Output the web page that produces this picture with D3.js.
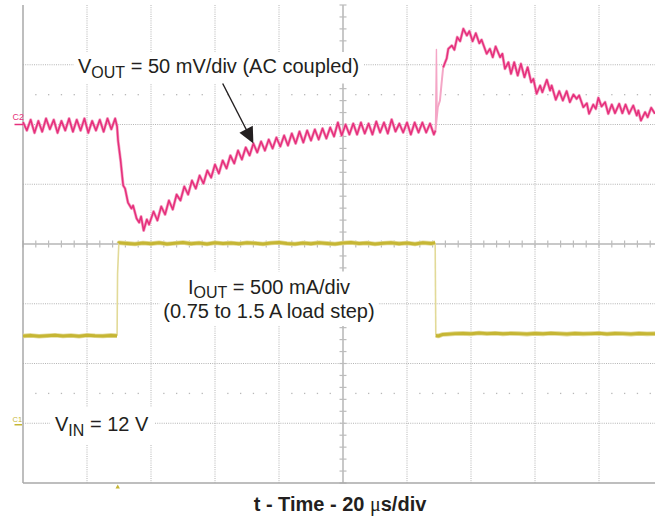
<!DOCTYPE html>
<html><head><meta charset="utf-8">
<script src="https://cdn.jsdelivr.net/npm/d3@7"></script>
<style>
html,body{margin:0;padding:0;background:#fff;}
svg{display:block;font-family:"Liberation Sans",Arial,Helvetica,sans-serif;}
</style></head><body>
<svg id="chart" width="655" height="518"></svg>
<script>
// ---------- data (time in µs, VOUT in mV AC-coupled, IOUT in A) ----------
const timeTicks = [0,20,40,60,80,100,120,140,160,180,200];      // 20 µs/div
const divTicks  = [-4,-3,-2,-1,0,1,2,3,4];                       // vertical divisions

const voutBefore = [[0,2],[1.2,-5],[2.4,4],[3.6,-7],[4.8,3],[6,-6],[7.2,5],[8.4,-4],[9.6,4],[10.8,-7],[12,3],[13.2,-5],[14.4,5],[15.6,-6],[16.8,4],[18,-5],[19.2,5],[20.4,-7],[21.6,3],[22.8,-5],[24,4],[25.2,-6],[26.4,5],[27.6,-4],[28.8,5]];
const voutDrop = [[29.4,-1.7],[29.7,-13.4],[30.5,-30.1],[31.3,-51],[31.9,-53.6],[32.8,-65.3],[33.9,-70.3],[34.4,-67.8],[35.5,-78.7],[36.3,-82],[36.9,-77],[37.7,-88.7],[38.7,-79.5],[39.4,-83.7]];
const voutRecovery = [[40.8,-72.8],[42,-80.3],[43.2,-68.6],[44.4,-75.3],[45.6,-63.6],[46.8,-71.1],[48,-58.6],[49.2,-63.6],[50.4,-51.9],[51.6,-58.6],[52.8,-46.9],[54,-53.6],[55.2,-42.7],[56.4,-49.4],[57.6,-38.5],[58.8,-44.4],[60,-33.5],[61.2,-41],[62.4,-30.1],[63.6,-36.8],[64.8,-25.9],[66,-32.6],[67.2,-21.8],[68.4,-29.3],[69.6,-19.2],[70.8,-25.9],[72,-15.9],[73.2,-23.4],[74.4,-14.2],[75.6,-21.8],[76.8,-12.6],[78,-20.1],[79.2,-10.9],[80.4,-18.4],[81.6,-9.2],[82.8,-17.6],[84,-7.5],[85.2,-15.9],[86.4,-5.9],[87.6,-15.1],[88.8,-5],[90,-13.4],[91.2,-4.2],[92.4,-12.6],[93.6,-3.3],[94.8,-11.7],[96,-2.5],[97.2,-10],[98.4,1.7],[99.6,-9.2],[100.8,0],[102,-8.4],[103.2,0.8],[104.4,-8.4],[105.6,1.7],[106.8,-7.5],[108,0.8],[109.2,-8.4],[110.4,2.5],[111.6,-6.7],[112.8,1.7],[114,-7.5],[115.2,4.2],[116.4,-5.9],[117.6,0.8],[118.8,-6.7],[120,1.7],[121.2,-8.4],[122.4,1.7],[123.6,-6.7],[124.8,1.7],[126,-6.7],[127.2,0.8],[128.4,-8.4],[128.9,-5]];
const voutSpike = [[128.9,-5],[129.2,62.8],[129.4,8]];
const voutEdge = [[128.9,-5],[129.6,14.2],[130.3,20.1],[130.8,34.3],[131.3,47.7]];
const voutRelease = [[131.3,47.7],[131.9,51.9],[132.4,55.2],[132.9,63.3],[134,66.1],[134.8,62.5],[135.7,73.1],[136.6,69.7],[137.6,80.1],[138.7,74.5],[139.5,78.1],[140.5,69.7],[141.5,76.4],[142.6,68],[143.3,70.9],[144.9,59.2],[145.9,63.3],[146.8,56.3],[147.7,65.3],[149.1,56.3],[149.8,59.2],[150.6,46.6],[151.7,52.1],[152.5,42.4],[153.5,52.1],[154.6,41],[155.6,50.8],[156.7,39.6],[157.7,47.9],[158.8,35.4],[159.5,38.2],[160.5,25.7],[161.6,32.6],[162.3,27],[163.7,37.4],[164.7,28.5],[165.2,32.6],[166.5,20.7],[167.6,27.9],[168.7,20.1],[169.9,27.9],[170.9,18.7],[172,25.1],[173,21.5],[173.8,24.3],[175.1,14.5],[176.2,17.8],[176.9,9],[178.2,16.7],[179,13.1],[179.8,22.3],[180.8,15.1],[181.9,18.7],[182.9,9],[184,16.7],[185,9.5],[186.3,17.3],[187.3,9.5],[188.3,16.7],[189.4,9],[190.7,15.9],[191.8,7.5],[192.3,11.7],[193.1,3.3],[194.4,10.3],[195.2,6.1],[196.3,14],[197.5,9]];

const ioutBefore = [[0,0.73],[2.5,0.735],[5,0.728],[7.5,0.732],[10,0.736],[12.5,0.73],[15,0.734],[17.5,0.728],[20,0.736],[22.5,0.732],[25,0.73],[27.5,0.735],[29.4,0.732]];
const ioutStepUp = [[29.4,0.732],[29.55,1.25],[29.95,1.505]];
const ioutHigh = [[29.95,1.505],[30,1.51],[32.5,1.505],[35,1.5],[37.5,1.508],[40,1.503],[42.5,1.51],[45,1.5],[47.5,1.506],[50,1.512],[52.5,1.503],[55,1.508],[57.5,1.5],[60,1.51],[62.5,1.504],[65,1.508],[67.5,1.502],[70,1.51],[72.5,1.506],[75,1.5],[77.5,1.508],[80,1.512],[82.5,1.504],[85,1.5],[87.5,1.508],[90,1.503],[92.5,1.51],[95,1.505],[97.5,1.5],[100,1.508],[102.5,1.512],[105,1.504],[107.5,1.508],[110,1.5],[112.5,1.506],[115,1.51],[117.5,1.503],[120,1.508],[122.5,1.5],[125,1.51],[127.5,1.505],[128.8,1.51]];
const ioutStepDown = [[128.8,1.51],[129,0.735]];
const ioutAfter = [[129,0.735],[129.8,0.73],[131,0.742],[132.5,0.745],[135,0.75],[137.5,0.752],[140,0.748],[142.5,0.755],[145,0.75],[147.5,0.753],[150,0.748],[152.5,0.752],[155,0.75],[157.5,0.746],[160,0.752],[162.5,0.748],[165,0.753],[167.5,0.75],[170,0.746],[172.5,0.752],[175,0.748],[177.5,0.75],[180,0.753],[182.5,0.747],[185,0.752],[187.5,0.75],[190,0.746],[192.5,0.752],[195,0.748],[197.5,0.75],[200,0.75]];

const triggerTime = 29.6;
const arrowFrom = [62.4, 34.3];   // [µs, mV]
const arrowTo   = [72.0, -15.9];

// ---------- scales ----------
const svg = d3.select('#chart');
const x = d3.scaleLinear().domain([0,200]).range([23,663]);
const yDiv = d3.scaleLinear().domain([-4,4]).range([483,5]);
const yV = d3.scaleLinear().domain([-300,100]).range([483,5]);   // 50 mV/div, C2 ref at +2 div
const yI = d3.scaleLinear().domain([-0.5,3.5]).range([483,5]);   // 500 mA/div, C1 ref at -3 div

const gridCol = '#b4b4b4';
const grid = svg.append('g');
const centerT = 100, minorStepT = 4, minorStepDiv = 0.2;
grid.selectAll('line.gv').data(timeTicks.filter(t=>t!==0 && t!==centerT && t!==200)).join('line')
  .attr('x1',d=>x(d)).attr('x2',d=>x(d)).attr('y1',yDiv(4)).attr('y2',yDiv(-4))
  .attr('stroke',gridCol).attr('stroke-width',1).attr('stroke-dasharray','1 1.2');
grid.selectAll('line.gh').data(divTicks.filter(d=>d!==0 && d!==-4 && d!==4)).join('line')
  .attr('x1',x(0)).attr('x2',x(200)).attr('y1',d=>yDiv(d)).attr('y2',d=>yDiv(d))
  .attr('stroke',gridCol).attr('stroke-width',1).attr('stroke-dasharray','1 1.2');
const minorT = d3.range(0,200.1,minorStepT).filter(t=>Math.round(t)%20!==0);
[2.5,-2.5].forEach(dv=>{
  grid.append('g').selectAll('rect').data(minorT).join('rect')
    .attr('x',d=>x(d)-0.6).attr('y',yDiv(dv)-0.6).attr('width',1.3).attr('height',1.3).attr('fill','#b8b8b8');
});
grid.append('line').attr('x1',x(0)).attr('x2',x(200)).attr('y1',yDiv(0)).attr('y2',yDiv(0))
  .attr('stroke','#c8c8c8').attr('stroke-width',2);
grid.append('line').attr('x1',x(centerT)).attr('x2',x(centerT)).attr('y1',yDiv(4)).attr('y2',yDiv(-4))
  .attr('stroke','#c8c8c8').attr('stroke-width',2);
grid.append('g').selectAll('line').data(d3.range(0,200.1,minorStepT)).join('line')
  .attr('x1',d=>x(d)).attr('x2',d=>x(d)).attr('y1',yDiv(0)-3.5).attr('y2',yDiv(0)+3.5)
  .attr('stroke','#bcbcbc').attr('stroke-width',1.2);
grid.append('g').selectAll('line').data(d3.range(-4,4.01,minorStepDiv)).join('line')
  .attr('x1',x(centerT)-3.5).attr('x2',x(centerT)+3.5).attr('y1',d=>yDiv(d)).attr('y2',d=>yDiv(d))
  .attr('stroke','#bcbcbc').attr('stroke-width',1.2);
grid.append('line').attr('x1',x(0)).attr('x2',x(0)).attr('y1',yDiv(4)).attr('y2',yDiv(-4))
  .attr('stroke','#a8a8a8').attr('stroke-width',1.5);
grid.append('line').attr('x1',x(0)).attr('x2',x(200)).attr('y1',yDiv(-4)).attr('y2',yDiv(-4))
  .attr('stroke','#a8a8a8').attr('stroke-width',1.5);

const boxLayer = svg.append('g');
const traceLayer = svg.append('g');
const textLayer = svg.append('g');

const pink = '#e6307c', pinkLight = '#f4a6c6';
const yellow = '#c6b634', yellowLight = '#e2da98';

const lineV = d3.line().x(d=>x(d[0])).y(d=>yV(d[1]));
const lineI = d3.line().x(d=>x(d[0])).y(d=>yI(d[1]));

function trace(line, data, col, w){
  traceLayer.append('path').attr('d',line(data)).attr('fill','none')
    .attr('stroke',col).attr('stroke-width',w).attr('stroke-linejoin','round');
}
// current: thin light edges, thick levels
trace(lineI, ioutStepUp, yellowLight, 1.6);
trace(lineI, ioutStepDown, yellowLight, 1.6);
[ioutBefore, ioutHigh, ioutAfter].forEach(s=>{ trace(lineI, s, yellowLight, 4.6); trace(lineI, s, yellow, 3); });
// voltage
trace(lineV, voutSpike, pinkLight, 1.4);
trace(lineV, voutEdge, pinkLight, 2);
const voutMain = [...voutBefore, ...voutDrop, ...voutRecovery];
[voutMain, voutRelease].forEach(s=>{ trace(lineV, s, pinkLight, 3); trace(lineV, s, pink, 1.6); });

// channel markers
textLayer.append('text').attr('x',12.5).attr('y',yV(0)-4.5).attr('font-size',9).attr('fill',pink).text('C2');
textLayer.append('line').attr('x1',14.5).attr('x2',23).attr('y1',yV(0)).attr('y2',yV(0)).attr('stroke',pink).attr('stroke-width',1.5);
textLayer.append('text').attr('x',12.5).attr('y',yI(0)-1.5).attr('font-size',7.5).attr('fill',yellow).text('C1');
textLayer.append('line').attr('x1',14.5).attr('x2',22).attr('y1',yI(0)+1.5).attr('y2',yI(0)+1.5).attr('stroke',yellow).attr('stroke-width',1.5);
const tx = x(triggerTime), ty = yDiv(-4);
textLayer.append('path').attr('d',`M${tx},${ty+1.5}L${tx-2.2},${ty+5.5}L${tx+2.2},${ty+5.5}Z`).attr('fill',yellow);

// ---------- annotation text ----------
const txtCol = '#231f20';
function label(xp, yp, main, sub, rest, anchor){
  const t = textLayer.append('text').attr('x',xp).attr('y',yp).attr('fill',txtCol)
    .attr('font-size',20).attr('text-anchor',anchor||'start');
  t.append('tspan').text(main);
  t.append('tspan').attr('font-size',16).attr('dy',4.5).text(sub);
  t.append('tspan').attr('dy',-4.5).text(rest);
  return t;
}
function boxFor(nodes, px, py){
  let x0=Infinity,y0=Infinity,x1=-Infinity,y1=-Infinity;
  nodes.forEach(n=>{const b=n.node().getBBox();x0=Math.min(x0,b.x);y0=Math.min(y0,b.y);x1=Math.max(x1,b.x+b.width);y1=Math.max(y1,b.y+b.height);});
  boxLayer.append('rect').attr('x',x0-px).attr('y',y0-py).attr('width',x1-x0+2*px).attr('height',y1-y0+2*py).attr('fill','#fff');
}
const tV = label(78, 73, 'V', 'OUT', ' = 50 mV/div (AC coupled)');
boxFor([tV], 4, 3);
const tI = label(269, 293.5, 'I', 'OUT', ' = 500 mA/div', 'middle');
const tI2 = textLayer.append('text').attr('x',269).attr('y',318).attr('fill',txtCol).attr('font-size',20)
  .attr('text-anchor','middle').text('(0.75 to 1.5 A load step)');
boxFor([tI,tI2], 4, 4);
const tIn = label(55, 431, 'V', 'IN', ' = 12 V');
boxFor([tIn], 5, 6);

const axT = textLayer.append('text').attr('x',340).attr('y',511).attr('text-anchor','middle')
  .attr('font-size',20).attr('font-weight','bold').attr('fill',txtCol);
axT.append('tspan').text('t - Time - 20 ');
axT.append('tspan').attr('font-family','"Liberation Serif",serif').attr('font-weight','normal').text('μ');
axT.append('tspan').text('s/div');

// arrow
const ax0 = x(arrowFrom[0]), ay0 = yV(arrowFrom[1]), ax1 = x(arrowTo[0]), ay1 = yV(arrowTo[1]);
const dx = ax1-ax0, dy = ay1-ay0, L = Math.hypot(dx,dy), ux = dx/L, uy = dy/L;
const hl = 16, hw = 7.5;
const bx = ax1-hl*ux, by = ay1-hl*uy;
textLayer.append('line').attr('x1',ax0).attr('y1',ay0).attr('x2',bx+2*ux).attr('y2',by+2*uy)
  .attr('stroke','#231f20').attr('stroke-width',1.4);
textLayer.append('path').attr('d',`M${ax1},${ay1}L${bx-hw*uy},${by+hw*ux}L${bx+hw*uy},${by-hw*ux}Z`).attr('fill','#231f20');
</script>
</body></html>
